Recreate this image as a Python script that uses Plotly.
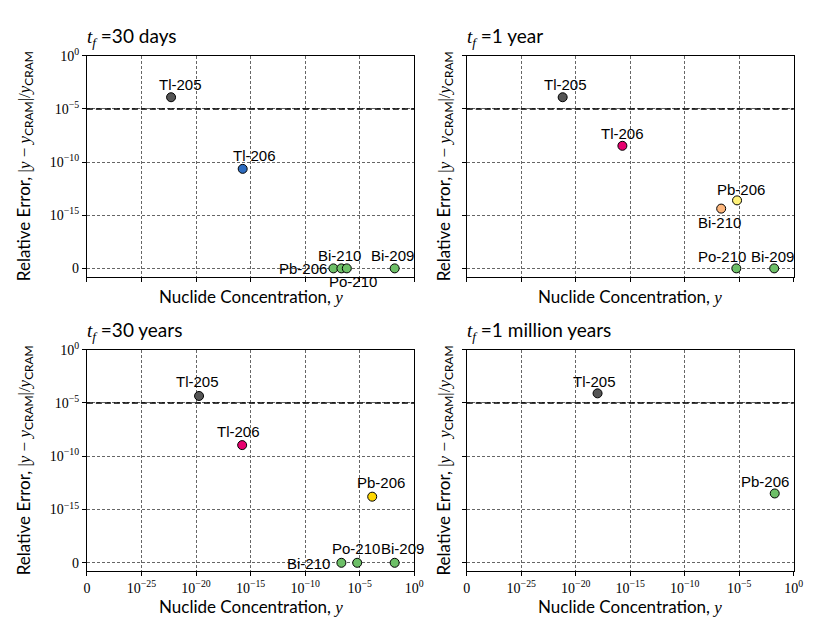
import math
import plotly.graph_objects as go

# ---------------- data ----------------
panel_titles = ["30 days", "1 year", "30 years", "1 million years"]

nuc_30d = ["Tl-205", "Tl-206", "Pb-206", "Bi-210", "Po-210", "Bi-209"]
conc_30d = [5.2e-23, 1.9e-16, 3.9e-8, 2.1e-7, 6.6e-7, 1.6e-2]
err_30d = [1.26e-4, 2.3e-11, 0.0, 0.0, 0.0, 0.0]

nuc_1y = ["Tl-205", "Tl-206", "Pb-206", "Bi-210", "Po-210", "Bi-209"]
conc_1y = [6.3e-22, 1.9e-16, 6.3e-6, 2.2e-7, 5.4e-6, 1.6e-2]
err_1y = [1.26e-4, 3.4e-9, 2.5e-14, 4.2e-15, 0.0, 0.0]

nuc_30y = ["Tl-205", "Tl-206", "Pb-206", "Bi-210", "Po-210", "Bi-209"]
conc_30y = [1.9e-20, 1.7e-16, 1.4e-4, 2.1e-7, 5.9e-6, 1.6e-2]
err_30y = [4.5e-5, 1.1e-9, 1.6e-14, 0.0, 0.0, 0.0]

nuc_1My = ["Tl-205", "Pb-206"]
conc_1My = [1.0e-18, 1.8e-2]
err_1My = [7.9e-5, 3.2e-14]

x_tick_vals = [0, 1e-25, 1e-20, 1e-15, 1e-10, 1e-5, 1e0]
x_tick_text = ["0", "10<sup>−25</sup>", "10<sup>−20</sup>", "10<sup>−15</sup>",
               "10<sup>−10</sup>", "10<sup>−5</sup>", "10<sup>0</sup>"]
y_tick_vals = [0, 1e-15, 1e-10, 1e-5, 1e0]
y_tick_text = ["0", "10<sup>−15</sup>", "10<sup>−10</sup>", "10<sup>−5</sup>", "10<sup>0</sup>"]
threshold = 1e-5

# ---------------- styles ----------------
GREY = "#555555"
BLUE = "#2d6cc0"
MAG = "#e7006f"
GREEN = "#6dbf67"
LYEL = "#fff27a"
LORA = "#fdb67c"
GOLD = "#ffd700"
colors = [
    [GREY, BLUE, GREEN, GREEN, GREEN, GREEN],
    [GREY, MAG, LYEL, LORA, GREEN, GREEN],
    [GREY, MAG, GOLD, GREEN, GREEN, GREEN],
    [GREY, GREEN],
]
# label offsets in pixels (dx, dy up)
offsets = [
    [(9, 13), (12, 13), (-30, 0), (-2, 13), (6, -13), (-2, 13)],
    [(3, 13), (0, 12), (4, 11), (-2, -14), (-14, 12), (-2, 12)],
    [(-2, 14), (-4, 14), (9, 14), (-33, -1), (-1, 14), (8, 14)],
    [(-3, 12), (-10, 12)],
]

W, H = 830, 642


# symlog-like transforms
def tx(v):
    lt, ls = 1e-25, 5.0
    return v / lt * ls if v <= lt else math.log10(v / lt) + ls


def ty(v):
    lt, ls = 1e-15, 5.0
    return v / lt * ls if v <= lt else math.log10(v / lt) + ls


panels = [
    (nuc_30d, conc_30d, err_30d),
    (nuc_1y, conc_1y, err_1y),
    (nuc_30y, conc_30y, err_30y),
    (nuc_1My, conc_1My, err_1My),
]

# plot areas in pixels (left, right, top, bottom)
areas = [
    (84.3, 417.3, 46.5, 270.9),
    (470.7, 803.3, 46.5, 270.9),
    (84.3, 417.3, 345.0, 570.0),
    (470.7, 803.3, 345.0, 570.0),
]

fig = go.Figure()
annotations = []
shapes = []
TICKFONT = dict(family="Liberation Serif", size=14, color="black")
LABELFONT = dict(family="Liberation Sans", size=15, color="black")
TITLEFONT = dict(family="Lato", size=17, color="black")
SERIF = "<span style='font-family:Liberation Serif'>"

for i, ((nucs, conc, err), (l, r, t, b)) in enumerate(zip(panels, areas)):
    xa = "xaxis" if i == 0 else f"xaxis{i+1}"
    ya = "yaxis" if i == 0 else f"yaxis{i+1}"
    xr = "x" if i == 0 else f"x{i+1}"
    yr = "y" if i == 0 else f"y{i+1}"
    bottom_row = i >= 2
    left_col = i % 2 == 0
    fig.add_trace(go.Scatter(
        x=[tx(v) for v in conc], y=[ty(v) for v in err],
        mode="markers", xaxis=xr, yaxis=yr, showlegend=False,
        marker=dict(size=9, color=colors[i], line=dict(color="black", width=1)),
        hoverinfo="skip",
    ))
    grid = dict(showgrid=True, gridcolor="#666666", gridwidth=0.8, griddash="3px,2px")
    fig.layout[xa] = dict(
        domain=[l / W, r / W], anchor=yr, range=[tx(0), tx(1e0)],
        tickmode="array", tickvals=[tx(v) for v in x_tick_vals], ticktext=x_tick_text,
        showticklabels=bottom_row, ticks="outside", ticklen=4, tickcolor="black",
        showline=True, linecolor="black", linewidth=1, mirror=True, zeroline=False,
        tickfont=TICKFONT, **grid,
    )
    fig.layout[ya] = dict(
        domain=[1 - b / H, 1 - t / H], anchor=xr, range=[-0.78, ty(1e0)],
        tickmode="array", tickvals=[ty(v) for v in y_tick_vals], ticktext=y_tick_text,
        showticklabels=left_col, ticks="outside", ticklen=4, tickcolor="black",
        showline=True, linecolor="black", linewidth=1, mirror=True, zeroline=False,
        tickfont=TICKFONT, **grid,
    )
    # threshold line
    shapes.append(dict(type="line", xref=f"{xr} domain", yref=yr, x0=0, x1=1,
                       y0=ty(threshold), y1=ty(threshold),
                       line=dict(color="black", width=1.5, dash="6px,3px")))
    # point labels
    for j, n in enumerate(nucs):
        dx, dy = offsets[i][j]
        annotations.append(dict(x=tx(conc[j]), y=ty(err[j]), xref=xr, yref=yr,
                                text=n, showarrow=False, xshift=dx, yshift=dy,
                                font=LABELFONT))
    # panel title
    annotations.append(dict(
        x=(l - 2) / W, y=1 - (t - 19) / H, xref="paper", yref="paper",
        xanchor="left", yanchor="middle", showarrow=False,
        text=f"{SERIF}<i>t</i><sub><i>f</i></sub></span> ={panel_titles[i]}",
        font=dict(family="Lato", size=19, color="black")))
    # x title
    annotations.append(dict(
        x=(l + r) / 2 / W, y=1 - (b + 20) / H if not bottom_row else 1 - (b + 36) / H,
        xref="paper", yref="paper", xanchor="center", yanchor="middle", showarrow=False,
        text=f"Nuclide Concentration, {SERIF}<i>y</i></span>", font=TITLEFONT))
    # y title
    annotations.append(dict(
        x=(l - 63) / W if left_col else (l - 22) / W, y=1 - (t + b) / 2 / H,
        xref="paper", yref="paper", xanchor="center", yanchor="middle", showarrow=False,
        textangle=-90,
        text=(f"Relative Error, {SERIF}|<i>y</i> − <i>y</i></span><sub>CRAM</sub>"
              f"{SERIF}|/<i>y</i></span><sub>CRAM</sub>"),
        font=TITLEFONT))

fig.update_layout(
    width=W, height=H, margin=dict(l=0, r=0, t=0, b=0),
    paper_bgcolor="white", plot_bgcolor="white",
    annotations=annotations, shapes=shapes,
)
fig.write_html("out.html", config={"displayModeBar": False},
               post_script="document.body.style.margin='0px';")
